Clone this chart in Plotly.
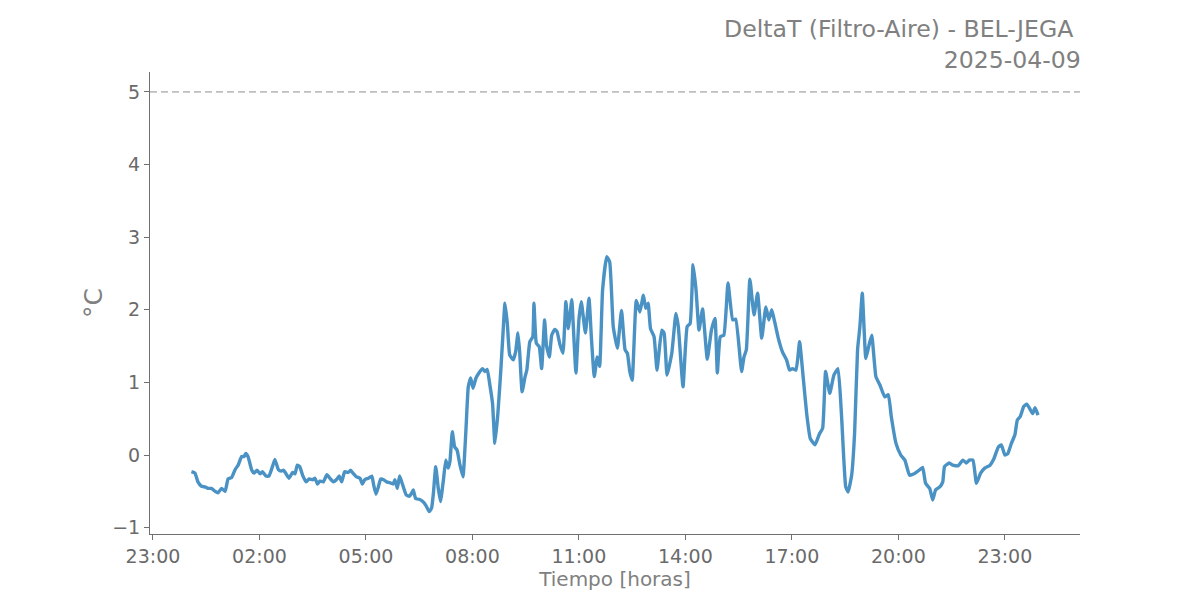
import plotly.graph_objects as go

times = [
"00:05","00:11","00:16","00:22","00:28","00:33","00:39","00:45","00:50","00:56",
"01:02","01:07","01:13","01:19","01:24","01:30","01:34","01:37","01:41","01:47",
"01:51","01:56","02:01","02:05","02:11","02:16","02:22","02:26","02:32","02:37",
"02:41","02:45","02:50","02:56","03:00","03:04","03:08","03:13","03:19","03:24",
"03:30","03:34","03:38","03:42","03:48","03:54","03:59","04:05","04:10","04:15",
"04:19","04:24","04:30","04:34","04:38","04:44","04:50","04:54","04:58","05:04",
"05:10","05:13","05:17","05:21","05:25","05:30","05:35","05:40","05:46","05:49",
"05:53","05:57","06:02","06:08","06:13","06:17","06:20","06:24","06:30","06:36",
"06:41","06:47","06:51","06:54","06:58","07:02","07:06","07:11","07:15","07:19",
"07:22","07:26","07:30","07:34","07:39","07:44","07:49","07:53","07:57","08:01",
"08:06","08:11","08:17","08:21","08:25","08:29","08:34","08:38","08:43","08:48",
"08:52","08:55","08:59","09:03","09:09","09:13","09:17","09:20","09:24","09:29",
"09:32","09:37","09:42","09:44","09:48","09:53","09:57","10:02","10:05","10:10",
"10:14","10:19","10:23","10:28","10:33","10:38","10:42","10:48","10:50","10:55",
"11:00","11:04","11:11","11:17","11:21","11:26","11:31","11:35","11:40","11:47",
"11:52","11:58","12:05","12:12","12:18","12:22","12:26","12:30","12:37","12:43",
"12:49","12:53","12:57","13:01","13:07","13:12","13:20","13:24","13:29","13:37",
"13:44","13:48","13:56","14:03","14:08","14:13","14:18","14:23","14:29","14:37",
"14:44","14:50","14:54","14:59","15:05","15:12","15:20","15:25","15:35","15:39",
"15:43","15:49","15:56","16:02","16:09","16:16","16:21","16:26","16:31","16:37",
"16:44","16:51","16:56","17:01","17:07","17:13","17:19","17:25","17:31","17:39",
"17:46","17:52","17:57","18:04","18:11","18:18","18:24","18:31","18:35","18:41",
"18:46","18:51","18:55","18:59","19:05","19:10","19:15","19:22","19:29","19:37",
"19:43","19:48","19:56","20:04","20:11","20:19","20:28","20:35","20:41","20:46",
"20:53","20:58","21:03","21:10","21:15","21:18","21:26","21:32","21:41","21:49",
"21:55","22:00","22:06","22:12","22:19","22:26","22:35","22:41","22:49","22:54",
"23:00","23:05","23:11","23:17","23:21","23:26","23:32","23:37","23:42","23:47",
"23:51","23:56",
]

delta_t = [
-0.23,-0.25,-0.37,-0.43,-0.44,-0.46,-0.46,-0.50,-0.52,-0.46,
-0.50,-0.33,-0.31,-0.20,-0.14,-0.02,-0.02,0.02,-0.03,-0.21,
-0.25,-0.21,-0.26,-0.23,-0.29,-0.29,-0.16,-0.06,-0.20,-0.22,
-0.21,-0.26,-0.32,-0.24,-0.26,-0.14,-0.16,-0.28,-0.37,-0.33,
-0.34,-0.32,-0.40,-0.36,-0.37,-0.27,-0.32,-0.37,-0.34,-0.29,
-0.37,-0.23,-0.24,-0.21,-0.25,-0.30,-0.32,-0.40,-0.34,-0.32,
-0.29,-0.41,-0.54,-0.44,-0.33,-0.34,-0.37,-0.38,-0.40,-0.34,
-0.46,-0.29,-0.41,-0.55,-0.57,-0.53,-0.48,-0.60,-0.61,-0.64,
-0.69,-0.78,-0.73,-0.53,-0.16,-0.44,-0.64,-0.34,-0.07,-0.18,
-0.09,0.32,0.11,0.07,-0.14,-0.30,0.34,0.94,1.06,0.92,
1.06,1.13,1.19,1.15,1.18,0.99,0.71,0.16,0.57,1.17,
1.72,2.09,1.81,1.38,1.31,1.42,1.68,1.40,0.87,1.08,
1.17,1.56,1.63,2.09,1.54,1.49,1.19,1.86,1.52,1.35,
1.65,1.73,1.70,1.52,1.40,2.11,1.74,2.14,1.86,1.13,
1.86,2.11,1.68,2.16,1.63,1.08,1.35,1.22,2.27,2.73,
2.66,1.77,1.47,1.99,1.45,1.40,1.15,1.03,2.13,1.97,
2.20,2.02,2.09,1.74,1.63,1.17,1.72,1.68,1.10,1.40,
1.95,1.77,0.94,1.77,1.81,2.62,2.27,1.72,2.01,1.32,
1.72,1.88,1.13,1.63,1.65,2.37,1.86,1.87,1.15,1.35,
1.45,2.42,1.93,2.23,1.61,2.04,1.86,2.00,1.83,1.61,
1.42,1.31,1.17,1.19,1.17,1.56,1.08,0.57,0.23,0.14,
0.28,0.37,1.15,0.85,1.10,1.19,0.53,-0.44,-0.51,-0.28,
0.30,1.45,1.77,2.23,1.33,1.50,1.65,1.08,0.96,0.80,
0.83,0.53,0.16,0.00,-0.07,-0.28,-0.25,-0.21,-0.17,-0.39,
-0.46,-0.62,-0.48,-0.44,-0.37,-0.16,-0.11,-0.14,-0.15,-0.07,
-0.11,-0.07,-0.07,-0.39,-0.25,-0.18,-0.14,-0.06,0.11,0.14,
0.00,0.02,0.16,0.28,0.48,0.53,0.67,0.70,0.64,0.57,
0.65,0.55,
]

date = "2025-04-09"
threshold = 5
y_ticks = [-1, 0, 1, 2, 3, 4, 5]
y_tick_text = ["\u22121", "0", "1", "2", "3", "4", "5"]
title_line1 = "DeltaT (Filtro-Aire) - BEL-JEGA&nbsp;"
title_line2 = date
x_title = "Tiempo [horas]"
y_title = "°C"

x_vals = [f"{date} {t}" for t in times]

FONT = "DejaVu Sans"
TEXT_GREY = "#6a6a6a"
TITLE_GREY = "#808080"
AXIS_GREY = "#707070"
LINE_BLUE = "#4a92c4"

fig = go.Figure()
fig.add_trace(go.Scatter(
    x=x_vals, y=delta_t, mode="lines",
    line=dict(color=LINE_BLUE, width=3.4, shape="spline", smoothing=0.4),
    showlegend=False, hoverinfo="x+y",
))

fig.add_shape(type="line", xref="paper", x0=0, x1=1, yref="y", y0=threshold, y1=threshold,
              line=dict(color="#bfbfbf", width=1.8, dash="7px,4px"))

fig.update_layout(
    width=1200, height=600,
    margin=dict(l=142, r=128, t=64, b=74),
    paper_bgcolor="white", plot_bgcolor="white",
    font=dict(family=FONT, color=TEXT_GREY, size=19),
    showlegend=False,
    annotations=[
        dict(xref="paper", yref="paper", x=1.0, y=1.0, yshift=59, xshift=3,
             xanchor="right", yanchor="top",
             align="right", showarrow=False,
             text=f"{title_line1}<br>{title_line2}",
             font=dict(family=FONT, size=23.6, color=TITLE_GREY)),
    ],
)

fig.update_xaxes(
    range=["2025-04-08 22:55", "2025-04-10 01:07"],
    tick0="2025-04-08 23:00", dtick=3 * 3600 * 1000, tickformat="%H:%M",
    showline=True, linecolor=AXIS_GREY, linewidth=1,
    ticks="outside", ticklen=5, tickcolor=AXIS_GREY, tickwidth=1,
    showgrid=False, zeroline=False,
    tickfont=dict(family=FONT, size=19, color=TEXT_GREY),
    title=dict(text=x_title, font=dict(family=FONT, size=20, color=TITLE_GREY), standoff=5),
)
fig.update_yaxes(
    range=[-1.088, 5.275],
    tickvals=y_ticks, ticktext=y_tick_text,
    showline=True, linecolor=AXIS_GREY, linewidth=1,
    ticks="outside", ticklen=5, tickcolor=AXIS_GREY, tickwidth=1,
    showgrid=False, zeroline=False,
    tickfont=dict(family=FONT, size=19, color=TEXT_GREY),
    title=dict(text=y_title, font=dict(family=FONT, size=25, color=TITLE_GREY), standoff=2),
)

fig.write_html("out.html")
